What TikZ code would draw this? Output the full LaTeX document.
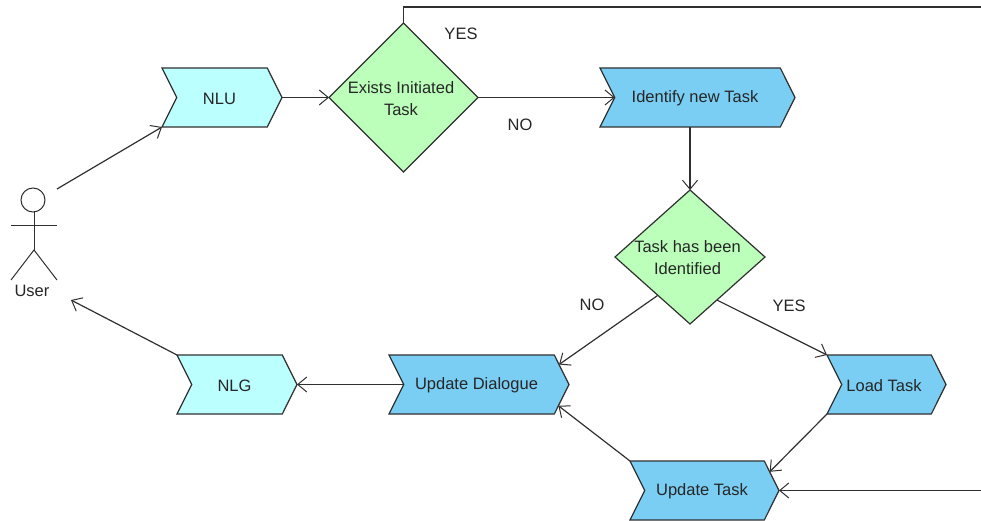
\documentclass[tikz,border=0pt]{standalone}
\usepackage{fontspec}
\setmainfont{Liberation Sans}
\usetikzlibrary{arrows.meta,shapes.geometric,shapes.symbols,calc}
\definecolor{lineC}{HTML}{303030}
\definecolor{cyanC}{HTML}{BBFFFF}
\definecolor{blueC}{HTML}{7ACEF4}
\definecolor{greenC}{HTML}{BBFFBB}
\tikzset{
  x=1pt,y=-1pt,
  every node/.style={font=\fontsize{16.5}{22}\selectfont,text=black!85},
  base/.style={draw=lineC,line width=1.2pt,inner sep=0pt,outer sep=0pt},
  chevron/.style n args={3}{base,shape=signal,signal from=west,signal to=east,signal pointer angle=127,
    minimum width=#1,minimum height=59,fill=#2,label={[xshift=-2.5pt,yshift=-1pt,align=center]center:#3}},
  decision/.style n args={3}{base,shape=diamond,aspect=1,minimum width=#1,minimum height=#2,fill=greenC,
    label={[xshift=-2.5pt,yshift=-1pt,align=center]center:#3}},
  conn/.style={draw=lineC,line width=1.2pt,-{Straight Barb[length=9pt,width=15pt,line width=1pt]}},
  link/.style={draw=lineC,line width=1.2pt},
  note/.style={inner sep=0pt},
}
\begin{document}
\begin{tikzpicture}
\useasboundingbox (0,0) rectangle (981,521);
% nodes
\node[chevron={120pt}{cyanC}{NLU}] (nlu) at (222,97.5) {};
\node[chevron={195pt}{blueC}{Identify new Task}] (identify) at (697.5,97.5) {};
\node[chevron={120pt}{cyanC}{NLG}] (nlg) at (237,384.5) {};
\node[chevron={180pt}{blueC}{Update Dialogue}] (dialogue) at (479,384.5) {};
\node[chevron={119pt}{blueC}{Load Task}] (load) at (886.5,384.5) {};
\node[chevron={149pt}{blueC}{Update Task}] (utask) at (704.5,490.5) {};
\node[decision={149pt}{149pt}{Exists Initiated\\Task}] (exists) at (403.5,97.5) {};
\node[decision={150pt}{134pt}{Task has been\\Identified}] (hasbeen) at (690,257) {};
% actor
\node[draw=lineC,line width=1pt,circle,minimum size=24pt,inner sep=0pt,outer sep=0pt] (head) at (33,200) {};
\coordinate (neck) at (34,212);
\coordinate (hip) at (34,250);
\draw[link,line width=1pt] (neck) -- (hip);
\draw[link,line width=1pt] (11,225) -- (57,225);
\draw[link,line width=1pt] (11,280) -- (hip) -- (57,280);
\node[note] (user) at (32,291) {User};
% free ends
\coordinate (userOut) at (57,189);
\coordinate (userIn) at (71,300);
\coordinate (rightTop) at (981,7);
\coordinate (rightIn) at (981,490.5);
\coordinate (cornerTop) at (403.5,7);
% connectors
\draw[conn] (userOut) -- (nlu.south west);
\draw[conn] (nlu.east) -- (exists.west);
\draw[conn] (exists.east) -- (identify.west);
\draw[conn] (hasbeen.north |- identify.south) -- (hasbeen.north);
\draw[conn] (hasbeen.230) -- (dialogue.14.7);
\draw[conn] (hasbeen.302.5) -- (load.north west);
\draw[conn] (load.south west) -- (utask.16.6);
\draw[conn] (utask.north west) -- (dialogue.-15.4);
\draw[conn] (rightIn) -- (utask.east);
\draw[conn] (dialogue.west) -- (nlg.east);
\draw[conn] (nlg.north west) -- (userIn);
\draw[link] (exists.north) -- (cornerTop) -- (rightTop);
% labels
\node[note] (yes1) at (461,34) {YES};
\node[note] (no1) at (520,125) {NO};
\node[note] (no2) at (592,305) {NO};
\node[note] (yes2) at (789,306) {YES};
\end{tikzpicture}
\end{document}
